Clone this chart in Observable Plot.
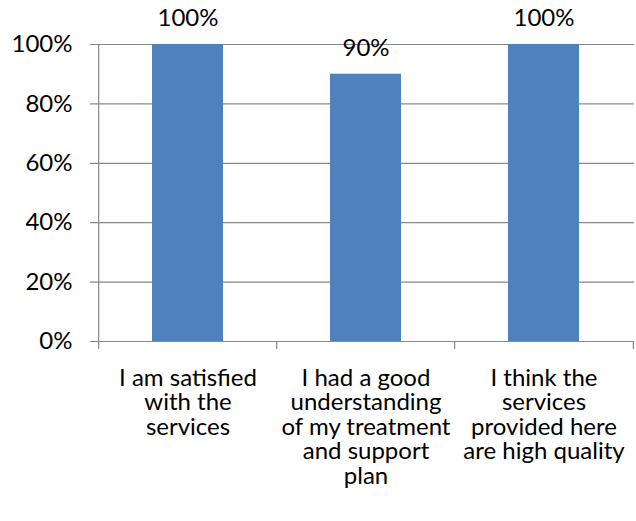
<!DOCTYPE html>
<html>
<head>
<meta charset="utf-8">
<script src="https://cdn.jsdelivr.net/npm/d3@7"></script>
<script src="https://cdn.jsdelivr.net/npm/@observablehq/plot@0.6"></script>
<style>
  html, body { margin: 0; padding: 0; background: #fff; }
  #chart svg { display: block; }
</style>
</head>
<body>
<div id="chart"></div>
<script>
const categories = [
  "I am satisfied with the services",
  "I had a good understanding of my treatment and support plan",
  "I think the services provided here are high quality"
];
const categoryLabels = [
  "I am satisfied\nwith the\nservices",
  "I had a good\nunderstanding\nof my treatment\nand support\nplan",
  "I think the\nservices\nprovided here\nare high quality"
];
const values = [1.0, 0.9, 1.0];
const yTicks = [0, 0.2, 0.4, 0.6, 0.8, 1.0];

const W = 636, H = 521;
const mL = 98, mR = 2, mT = 44, mB = 180;
const step = (W - mL - mR) / categories.length;
const font = "Lato, 'Open Sans', sans-serif";
const fs = 24;
const grid = "#888888";
const data = categories.map((c, i) => ({category: c, label: categoryLabels[i], value: values[i]}));
const pct = d3.format(".0%");

const chart = Plot.plot({
  width: W,
  height: H,
  marginLeft: mL,
  marginRight: mR,
  marginTop: mT,
  marginBottom: mB,
  style: {fontFamily: font, fontSize: fs + "px", color: "#000", background: "#fff"},
  x: {type: "band", domain: categories, paddingInner: 0.6, paddingOuter: 0.3, axis: null, label: null},
  y: {domain: [0, 1], axis: null, label: null},
  marks: [
    Plot.ruleY(yTicks, {stroke: grid, strokeWidth: 1.2, insetLeft: -8}),
    Plot.axisY({ticks: yTicks, tickSize: 0, tickPadding: 26, tickFormat: pct, fontSize: fs, fill: "#000", label: null}),
    Plot.barY(data, {x: "category", y: "value", fill: "#4F81BD"}),
    // vertical axis line at left edge
    Plot.ruleX([categories[0]], {x: d => d, dx: -step / 2, y1: 0, y2: 1, stroke: grid, strokeWidth: 1.2}),
    // category boundary ticks below the x axis
    Plot.ruleX(categories, {x: d => d, dx: -step / 2, y1: 0, y2: 0, insetBottom: -8, stroke: grid, strokeWidth: 1.2}),
    Plot.ruleX([categories[categories.length - 1]], {x: d => d, dx: step / 2, y1: 0, y2: 0, insetBottom: -8, stroke: grid, strokeWidth: 1.2}),
    Plot.text(data, {x: "category", y: "value", text: d => pct(d.value), dy: -26, lineAnchor: "middle", fontSize: fs, fill: "#000"}),
    Plot.text(data, {x: "category", frameAnchor: "bottom", text: "label", lineAnchor: "top", dy: 27, lineHeight: 1.02, fontSize: fs, fill: "#000"})
  ]
});
document.getElementById("chart").appendChild(chart);
</script>
</body>
</html>
